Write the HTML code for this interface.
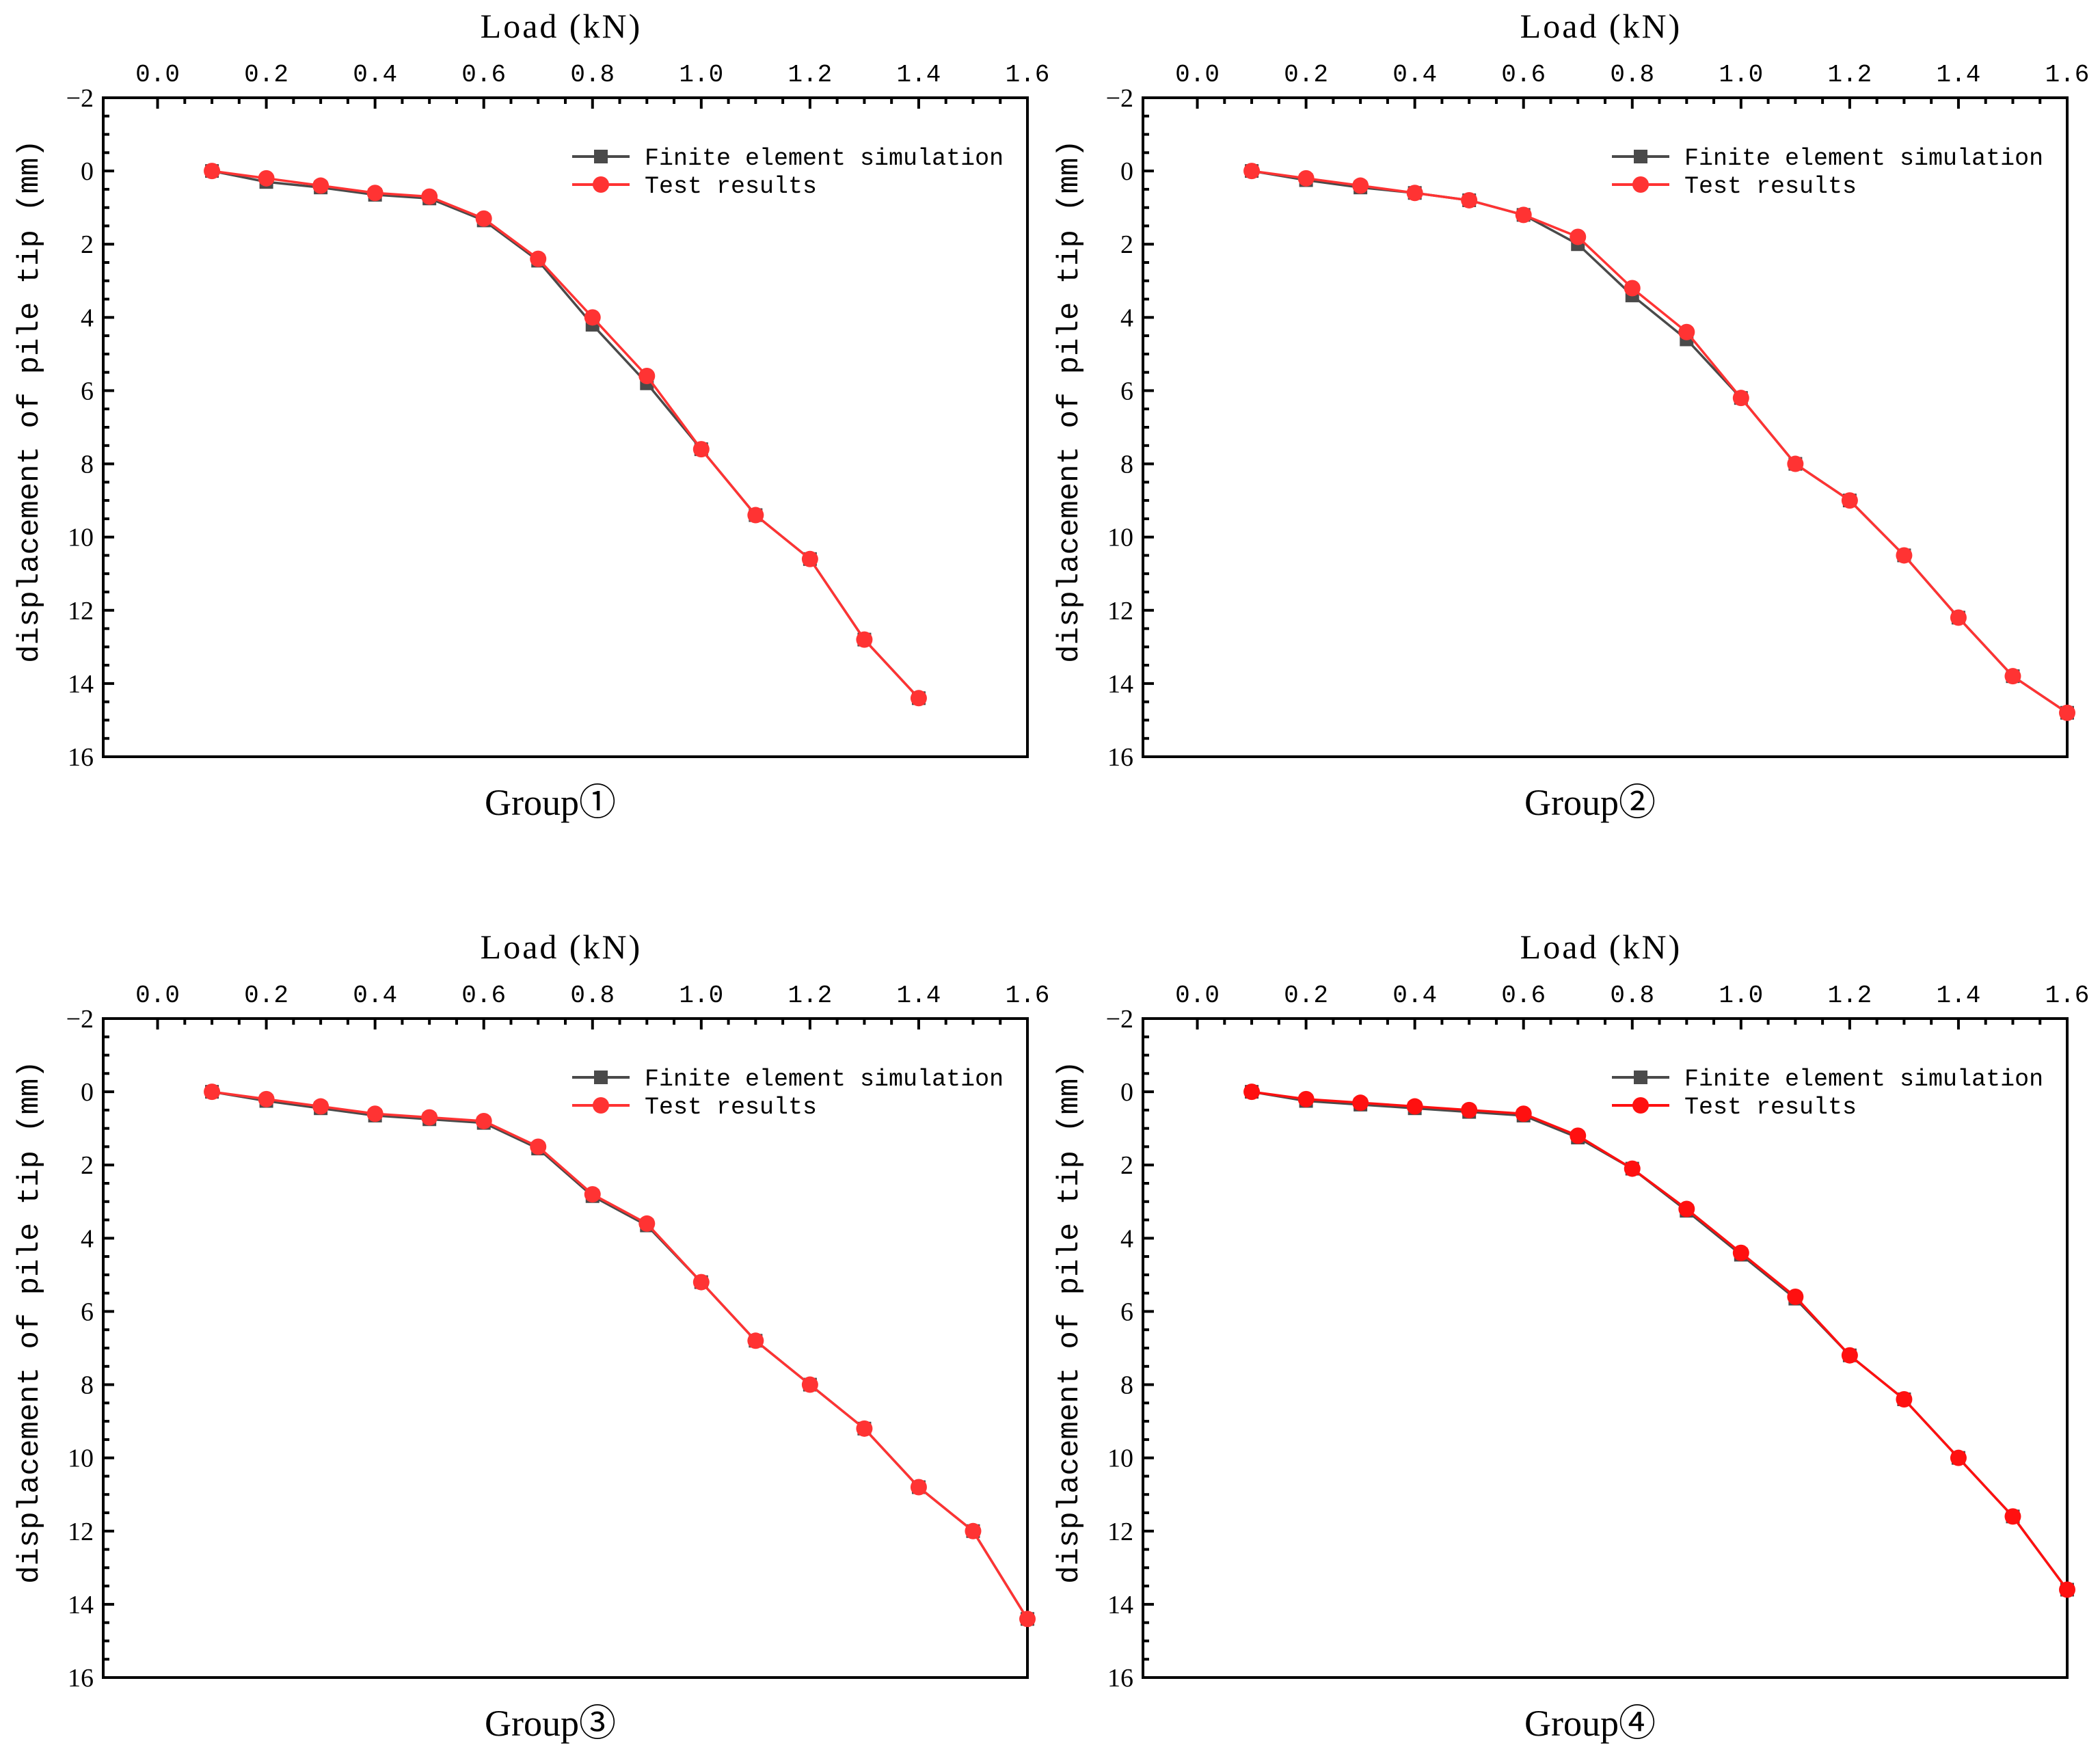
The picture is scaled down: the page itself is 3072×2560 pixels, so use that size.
<!DOCTYPE html>
<html><head><meta charset="utf-8">
<style>
html,body{margin:0;padding:0;background:#fff;}
svg{display:block;}
text{fill:#000;}
</style></head>
<body>
<svg id="fig" width="3072" height="2560" viewBox="0 0 3072 2560" xmlns="http://www.w3.org/2000/svg"></svg>
<script>
const loads = [0.1,0.2,0.3,0.4,0.5,0.6,0.7,0.8,0.9,1.0,1.1,1.2,1.3,1.4,1.5,1.6];
const xTicks = ["0.0","0.2","0.4","0.6","0.8","1.0","1.2","1.4","1.6"];
const yTicks = ["-2","0","2","4","6","8","10","12","14","16"];
const groupNames = ["Group\u2460","Group\u2461","Group\u2462","Group\u2463"];
const fe1 = [0,0.3,0.45,0.65,0.75,1.35,2.45,4.2,5.8,7.6,9.4,10.6,12.8,14.4];
const test1 = [0,0.2,0.4,0.6,0.7,1.3,2.4,4.0,5.6,7.6,9.4,10.6,12.8,14.4];
const fe2 = [0,0.25,0.45,0.6,0.8,1.2,2.0,3.4,4.6,6.2,8.0,9.0,10.5,12.2,13.8,14.8];
const test2 = [0,0.2,0.4,0.6,0.8,1.2,1.8,3.2,4.4,6.2,8.0,9.0,10.5,12.2,13.8,14.8];
const fe3 = [0,0.25,0.45,0.65,0.75,0.85,1.55,2.85,3.65,5.2,6.8,8.0,9.2,10.8,12.0,14.4];
const test3 = [0,0.2,0.4,0.6,0.7,0.8,1.5,2.8,3.6,5.2,6.8,8.0,9.2,10.8,12.0,14.4];
const fe4 = [0,0.25,0.35,0.45,0.55,0.65,1.25,2.1,3.25,4.45,5.65,7.2,8.4,10.0,11.6,13.6];
const test4 = [0,0.2,0.3,0.4,0.5,0.6,1.2,2.1,3.2,4.4,5.6,7.2,8.4,10.0,11.6,13.6];

const NS="http://www.w3.org/2000/svg";
const svg=document.getElementById('fig');
function mk(tag,attrs,parent){const e=document.createElementNS(NS,tag);for(const k in attrs)e.setAttribute(k,attrs[k]);(parent||svg).appendChild(e);return e;}

const panels=[
 {L:151,T:143,fe:fe1,test:test1,red:"#ff3333"},
 {L:1672,T:143,fe:fe2,test:test2,red:"#ff3333"},
 {L:151,T:1490,fe:fe3,test:test3,red:"#ff3333"},
 {L:1672,T:1490,fe:fe4,test:test4,red:"#ff1010"}
];
const W=1352,H=964,XMIN=-0.1,XMAX=1.6,YMIN=-2,YMAX=16;

panels.forEach((p,pi)=>{
 const g=mk('g',{});
 
 
 const sx=v=>p.L+(v-XMIN)/(XMAX-XMIN)*W;
 const sy=v=>p.T+(v-YMIN)/(YMAX-YMIN)*H;
 for(let i=0;i<=32;i++){const v=i*0.05;const x=sx(v);const major=i%4===0;
  const t=mk('line',{x1:x,x2:x,y1:p.T,y2:p.T+(major?16:9),stroke:'#000','stroke-width':4},g);
  }
 for(let i=0;i<=36;i++){const v=-2+i*0.5;const y=sy(v);const major=i%4===0;
  const t=mk('line',{x1:p.L,x2:p.L+(major?16:9),y1:y,y2:y,stroke:'#000','stroke-width':4},g);
  }
 const box=mk('rect',{x:p.L,y:p.T,width:W,height:H,fill:'none',stroke:'#000','stroke-width':4},g);
 
 xTicks.forEach(s=>{const t=mk('text',{x:sx(parseFloat(s)),y:p.T-24,'text-anchor':'middle','font-family':'Liberation Mono, monospace','font-size':36},g);t.textContent=s;
  });
 yTicks.forEach(s=>{const t=mk('text',{x:p.L-14,y:sy(parseFloat(s))+13,'text-anchor':'end','font-family':'Liberation Serif, serif','font-size':38},g);t.textContent=s.replace('-','\u2212');
  });
 const xt=mk('text',{x:p.L+670,y:p.T-88,'text-anchor':'middle','font-family':'Liberation Serif, serif','font-size':50,'letter-spacing':3},g);xt.textContent='Load (kN)';
 
 const yt=mk('text',{x:0,y:0,'text-anchor':'middle','font-family':'Liberation Mono, monospace','font-size':44,transform:`translate(${p.L-96},${p.T+H/2-38}) rotate(-90)`},g);yt.textContent='displacement of pile tip (mm)';
 
 const gt=mk('text',{x:p.L+654,y:p.T+H+85,'text-anchor':'middle','font-family':'Liberation Serif, "Noto Sans CJK SC", serif','font-size':54},g);gt.textContent=groupNames[pi];
 
 const series=[{d:p.fe,c:'#4a4a4a',m:'sq',n:'fe'},{d:p.test,c:p.red,m:'ci',n:'test'}];
 series.forEach(s=>{
  const pts=s.d.map((v,i)=>sx(loads[i])+','+sy(v)).join(' ');
  const pl=mk('polyline',{points:pts,fill:'none',stroke:s.c,'stroke-width':3.5,'stroke-linejoin':'round'},g);
  
  s.d.forEach((v,i)=>{const x=sx(loads[i]),y=sy(v);let m;
   if(s.m==='sq')m=mk('rect',{x:x-10,y:y-10,width:20,height:20,fill:s.c},g);
   else m=mk('circle',{cx:x,cy:y,r:12,fill:s.c},g);
   });
 });
 const lx=p.L+686, ly1=p.T+86, ly2=p.T+127;
 [[ly1,'#4a4a4a','sq','Finite element simulation'],[ly2,p.red,'ci','Test results']].forEach((e,k)=>{
  const lg=mk('g',{},g);
  mk('line',{x1:lx,x2:lx+84,y1:e[0],y2:e[0],stroke:e[1],'stroke-width':4},lg);
  if(e[2]==='sq')mk('rect',{x:lx+32,y:e[0]-10,width:20,height:20,fill:e[1]},lg);else mk('circle',{cx:lx+42,cy:e[0],r:12,fill:e[1]},lg);
  const t=mk('text',{x:lx+106,y:e[0]+12,'font-family':'Liberation Mono, monospace','font-size':35},lg);t.textContent=e[3];
 });
});
</script>
</body></html>
